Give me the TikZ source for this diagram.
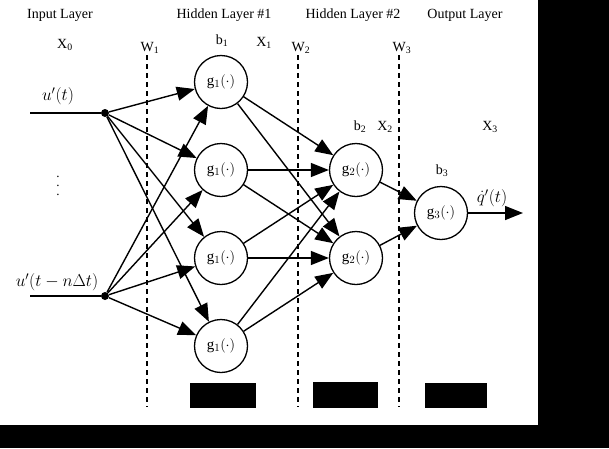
\documentclass[tikz,border=0pt]{standalone}
\usepackage{fontspec}
\setmainfont{Liberation Serif}
\usetikzlibrary{arrows.meta}
\begin{document}
\begin{tikzpicture}[x=1pt,y=-1pt,
  lbl/.style={font=\fontsize{14}{16}\selectfont, inner sep=0pt},
  mlbl/.style={font=\fontsize{18}{20}\selectfont, inner sep=0pt},
  neuron/.style={circle, draw, line width=1.3pt, minimum size=53pt, inner sep=0pt, fill=white, font=\fontsize{15}{17}\selectfont},
  arr/.style={line width=1.4pt, -{Triangle[length=18pt,width=14pt]}},
  wire/.style={line width=1.4pt},
  dsh/.style={line width=1.3pt, dash pattern=on 5pt off 4pt},
  dotn/.style={circle, fill, minimum size=8pt, inner sep=0pt}]
\useasboundingbox (0,0) rectangle (609,448);
% black frame parts
\fill[black] (538,0) rectangle (609,448);
\fill[black] (0,425) rectangle (609,448);
% dashed weight lines
\coordinate (w1t) at (147,55); \coordinate (w1b) at (147,407);
\coordinate (w2t) at (298,55); \coordinate (w2b) at (298,407);
\coordinate (w3t) at (399,55); \coordinate (w3b) at (399,407);
\draw[dsh] (w1t) -- (w1b);
\draw[dsh] (w2t) -- (w2b);
\draw[dsh] (w3t) -- (w3b);
% headings
\node[lbl] (hin) at (60,15) {Input Layer};
\node[lbl] (hh1) at (224,15) {Hidden Layer \#1};
\node[lbl] (hh2) at (353,15) {Hidden Layer \#2};
\node[lbl] (hout) at (465,15) {Output Layer};
\node[lbl] (x0) at (65,45) {X\textsubscript{0}};
\node[lbl] (lw1) at (150,48) {W\textsubscript{1}};
\node[lbl] (lb1) at (222,41) {b\textsubscript{1}};
\node[lbl] (lx1) at (264,43) {X\textsubscript{1}};
\node[lbl] (lw2) at (301,48) {W\textsubscript{2}};
\node[lbl] (lw3) at (402,48) {W\textsubscript{3}};
\node[lbl] (lb2) at (360,127) {b\textsubscript{2}};
\node[lbl] (lx2) at (385,127) {X\textsubscript{2}};
\node[lbl] (lx3) at (490,127) {X\textsubscript{3}};
\node[lbl] (lb3) at (442,171) {b\textsubscript{3}};
% inputs
\node[dotn] (i1) at (105,113) {};
\node[dotn] (i2) at (105,296) {};
\coordinate (s1) at (30,113);
\coordinate (s2) at (30,296);
\draw[wire] (s1) -- (i1);
\draw[wire] (s2) -- (i2);
\node[mlbl] (lu1) at (58,96) {$u'(t)$};
\node[mlbl] (lu2) at (57,282) {$u'(t-n\Delta t)$};
\node[inner sep=0pt, font=\fontsize{13}{9}\selectfont] (vd) at (58,186) {\vbox{\baselineskip=9pt\hbox{.}\hbox{.}\hbox{.}}};
% neurons
\node[neuron] (a1) at (221,82) {$\mathrm{g}_1(\cdot)$};
\node[neuron] (a2) at (221,170) {$\mathrm{g}_1(\cdot)$};
\node[neuron] (a3) at (221,258) {$\mathrm{g}_1(\cdot)$};
\node[neuron] (a4) at (221,346) {$\mathrm{g}_1(\cdot)$};
\node[neuron] (b1) at (356,170) {$\mathrm{g}_2(\cdot)$};
\node[neuron] (b2) at (356,258) {$\mathrm{g}_2(\cdot)$};
\node[neuron] (o) at (441,213) {$\mathrm{g}_3(\cdot)$};
\coordinate (oe) at (523,213);
% connections
\foreach \i in {i1,i2} \foreach \a in {a1,a2,a3,a4} \draw[arr] (\i) -- (\a);
\foreach \a in {a1,a2,a3,a4} \foreach \b in {b1,b2} \draw[arr] (\a) -- (\b);
\foreach \b in {b1,b2} \draw[arr] (\b) -- (o);
\draw[arr] (o) -- (oe);
\node[mlbl, anchor=south] (lq) at (492,207) {$\dot q'(t)$};
% blanked boxes
\fill[black] (190,383) rectangle (256,408);
\fill[black] (313,382) rectangle (378,408);
\fill[black] (425,383) rectangle (487,408);
\end{tikzpicture}
\end{document}
